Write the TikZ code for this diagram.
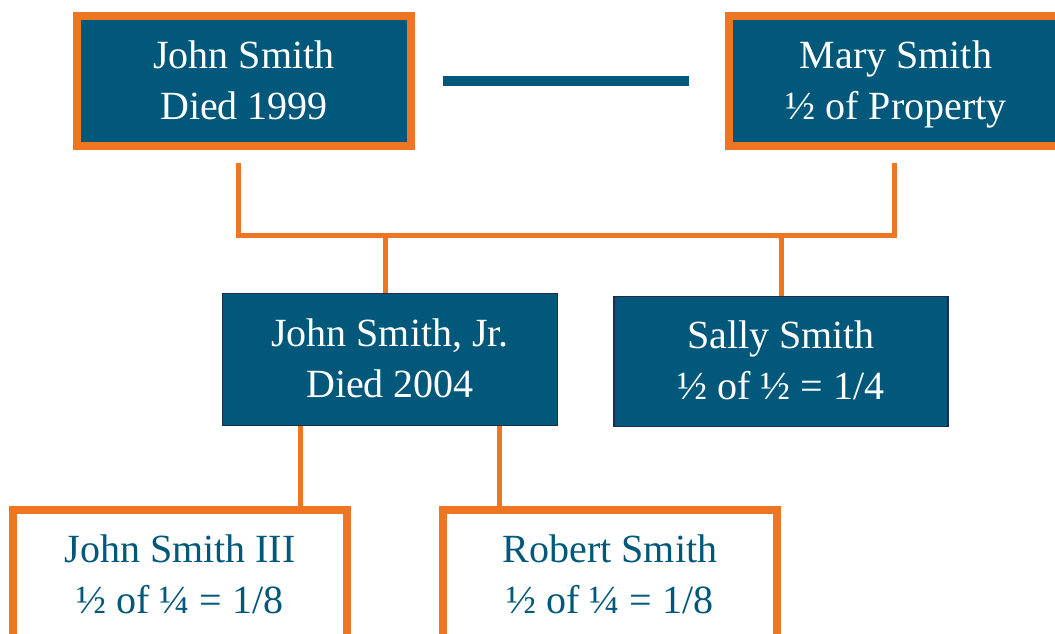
\documentclass[tikz,border=0pt]{standalone}
\usepackage{fontspec}
\setmainfont{Liberation Serif}
\definecolor{teal0}{HTML}{01587A}
\definecolor{orng}{HTML}{EE7623}
\definecolor{navy}{HTML}{1D2C4C}
\newcommand{\topst}{\rule{0pt}{37pt}}
\newcommand{\botst}{\rule[-12pt]{0pt}{12pt}}
\begin{document}
\begin{tikzpicture}[x=1pt,y=-1pt,
  txt/.style={align=center,font=\fontsize{40}{51}\selectfont},
  obox/.style={txt,draw=orng,line width=8pt,fill=teal0,text=white,minimum width=334pt,minimum height=130pt,inner sep=0pt},
  wbox/.style={txt,draw=orng,line width=8pt,fill=white,text=teal0,minimum width=334pt,minimum height=130pt,inner sep=0pt},
  nbox/.style={txt,draw=navy,line width=1.5pt,fill=teal0,text=white,inner sep=0pt},
  conn/.style={draw=orng,line width=5pt},
  spouse/.style={draw=teal0,line width=10pt}]
\useasboundingbox (0,0) rectangle (1055,634);
\clip (0,0) rectangle (1055,634);
\node[obox] (js) at (244,81) {\topst John Smith\\Died 1999\botst};
\node[obox] (ms) at (896,81) {\topst Mary Smith\\½ of Property\botst};
\node[nbox,minimum width=335pt,minimum height=132pt] (jr) at (390,359.5) {\topst John Smith, Jr.\\Died 2004\botst};
\node[nbox,minimum width=334pt,minimum height=130pt] (ss) at (781,361.5) {\topst Sally Smith\\½ of ½ = 1/4\botst};
\node[wbox] (j3) at (180,575) {\topst John Smith III\\½ of ¼ = 1/8\botst};
\node[wbox] (rs) at (610,575) {\topst Robert Smith\\½ of ¼ = 1/8\botst};
\draw[spouse] ([xshift=28pt]js.east) -- ([xshift=-36pt]ms.west);
\coordinate (jl) at (238,163);
\coordinate (mr) at (894,163);
\coordinate (bar) at (0,235);
\draw[conn] (jl) -- (jl |- bar) -- (mr |- bar) -- (mr);
\draw[conn] ([xshift=-5pt]jr.north) -- ([xshift=-5pt]jr.north |- bar);
\draw[conn] (ss.north) -- (ss.north |- bar);
\draw[conn] ([xshift=120pt]j3.north |- jr.south) -- ([xshift=120pt]j3.north);
\draw[conn] ([xshift=-111pt]rs.north |- jr.south) -- ([xshift=-111pt]rs.north);
\end{tikzpicture}
\end{document}
